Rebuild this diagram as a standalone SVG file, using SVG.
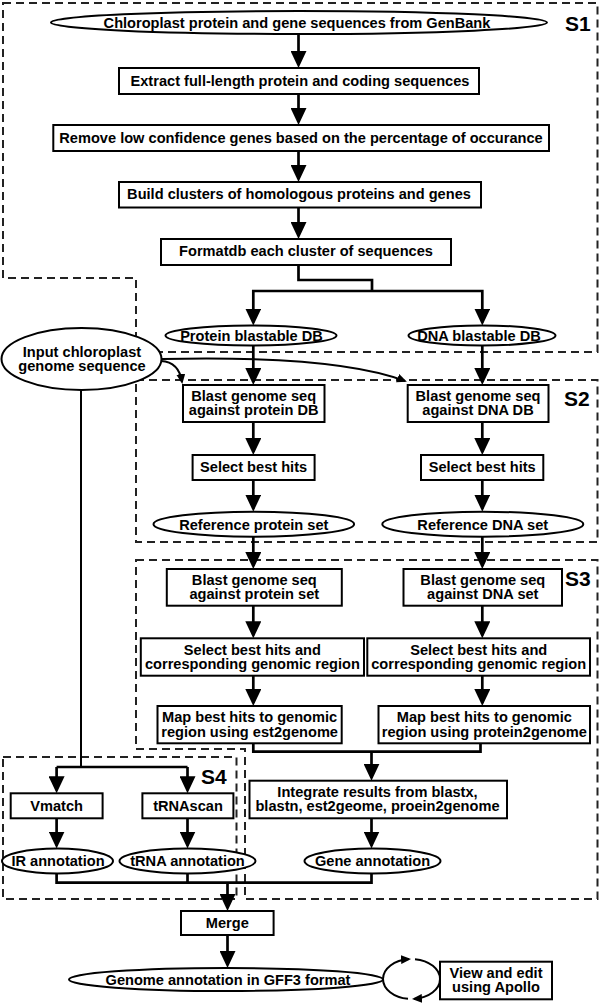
<svg xmlns="http://www.w3.org/2000/svg" width="600" height="1003" viewBox="0 0 600 1003">
<defs>
<style>
.box{fill:#fff;stroke:#000;stroke-width:2}
.conn{fill:none;stroke:#000;stroke-width:2.7}
.thin{fill:none;stroke:#000;stroke-width:2}
.dash{fill:none;stroke:#222;stroke-width:2;stroke-dasharray:8 5}
text{font-family:"Liberation Sans",Arial,Helvetica,sans-serif;font-weight:bold;font-size:14.6px;text-anchor:middle;fill:#000}
text.lbl{font-size:21px;text-anchor:start}
</style>
<marker id="ah" viewBox="0 0 17 16" refX="14" refY="8" markerWidth="17" markerHeight="16" markerUnits="userSpaceOnUse" orient="auto"><path d="M0,0 L17,8 L0,16 z" fill="#000"/></marker>
<marker id="ahs" viewBox="0 0 10 9" refX="8" refY="4.5" markerWidth="10" markerHeight="9" markerUnits="userSpaceOnUse" orient="auto"><path d="M0,0 L10,4.5 L0,9 z" fill="#000"/></marker>
</defs>
<rect width="600" height="1003" fill="#fff"/>

<g id="stages">
<path class="dash" d="M3,3 H597.5 V352 H136 V278 H3 Z"/>
<rect class="dash" x="136" y="380" width="461.5" height="162"/>
<path class="dash" d="M136,560 H597.5 V899 H245 V749 H136 Z"/>
<rect class="dash" x="3" y="757" width="233.5" height="142"/>
<text class="lbl" x="565" y="31">S1</text>
<text class="lbl" x="564" y="406">S2</text>
<text class="lbl" x="565" y="585.5">S3</text>
<text class="lbl" x="201" y="784">S4</text>
</g>

<g id="connectors">
<path class="conn" marker-end="url(#ah)" d="M298.5,34 V65"/>
<path class="conn" marker-end="url(#ah)" d="M298.5,94 V122"/>
<path class="conn" marker-end="url(#ah)" d="M298.5,151 V179"/>
<path class="conn" marker-end="url(#ah)" d="M298.5,207.5 V236"/>
<path class="conn" d="M298.5,265 V280 H372 V291"/>
<path class="conn" marker-end="url(#ah)" d="M372,291 H253.3 V322.5"/>
<path class="conn" marker-end="url(#ah)" d="M372,291 H482.3 V322.5"/>
<path class="thin" marker-end="url(#ahs)" d="M161,361 Q179,362 182,382"/>
<path class="thin" marker-end="url(#ahs)" d="M162,359 C250,357 350,360 405,381"/>
<path class="conn" marker-end="url(#ah)" d="M253.3,345.5 V382"/>
<path class="conn" marker-end="url(#ah)" d="M482.3,345.5 V382"/>
<path class="conn" marker-end="url(#ah)" d="M253.3,422 V452"/>
<path class="conn" marker-end="url(#ah)" d="M482.3,422 V452"/>
<path class="conn" marker-end="url(#ah)" d="M253.3,480 V508.7"/>
<path class="conn" marker-end="url(#ah)" d="M482.3,480 V508.7"/>
<path class="conn" marker-end="url(#ah)" d="M253.3,536.7 V566"/>
<path class="conn" marker-end="url(#ah)" d="M482.3,536.7 V566"/>
<path class="conn" marker-end="url(#ah)" d="M253.3,605.7 V635.3"/>
<path class="conn" marker-end="url(#ah)" d="M482.3,605.7 V635.3"/>
<path class="conn" marker-end="url(#ah)" d="M253.3,675.7 V703"/>
<path class="conn" marker-end="url(#ah)" d="M482.3,675.7 V703"/>
<path class="conn" d="M253.3,743.3 V751.7 H480.5 V743.3"/>
<path class="conn" marker-end="url(#ah)" d="M371.5,751.7 V777.7"/>
<path class="conn" marker-end="url(#ah)" d="M371.5,818.3 V845.5"/>
<path class="thin" d="M81,390 V767"/>
<path class="conn" d="M56.6,767 H187.5"/>
<path class="conn" marker-end="url(#ah)" d="M56.6,767 V790.3"/>
<path class="conn" marker-end="url(#ah)" d="M187.5,767 V790.3"/>
<path class="conn" marker-end="url(#ah)" d="M56.6,818.3 V845.5"/>
<path class="conn" marker-end="url(#ah)" d="M187.5,818.3 V845.5"/>
<path class="conn" d="M56.6,873.5 V882.7 H371.5 V873.5"/>
<path class="conn" d="M187.5,873.5 V882.7"/>
<path class="conn" marker-end="url(#ah)" d="M227.5,882.7 V908"/>
<path class="conn" marker-end="url(#ah)" d="M227.5,935 V965"/>
<path class="thin" marker-end="url(#ahs)" d="M383,979 A28.5,20 0 0 1 409,959.08"/>
<path class="thin" d="M415,959.15 A28.5,20 0 0 1 440,979"/>
<path class="thin" marker-end="url(#ahs)" d="M440,979 A28.5,20 0 0 1 414,998.92"/>
<path class="thin" d="M408,998.85 A28.5,20 0 0 1 383,979"/>
</g>

<g id="n_genbank"><ellipse class="box" cx="299" cy="22.5" rx="248" ry="11.5"/><text x="297" y="27.5">Chloroplast protein and gene sequences from GenBank</text></g>
<g id="n_extract"><rect class="box" x="119" y="68" width="360" height="26"/><text x="300" y="85.5">Extract full-length protein and coding sequences</text></g>
<g id="n_remove"><rect class="box" x="53.3" y="125" width="495.7" height="26"/><text x="301" y="142.5">Remove low confidence genes based on the percentage of occurance</text></g>
<g id="n_clusters"><rect class="box" x="119" y="182" width="362" height="25.5"/><text x="299" y="199">Build clusters of homologous proteins and genes</text></g>
<g id="n_formatdb"><rect class="box" x="161" y="239" width="290" height="26"/><text x="306" y="256">Formatdb each cluster of sequences</text></g>
<g id="n_protdb"><ellipse class="box" cx="251" cy="335.5" rx="85.5" ry="10"/><text x="251.5" y="340.5">Protein blastable DB</text></g>
<g id="n_dnadb"><ellipse class="box" cx="482" cy="335.5" rx="73.5" ry="10"/><text x="479" y="340.5">DNA blastable DB</text></g>
<g id="n_input"><ellipse class="box" cx="81.5" cy="359" rx="80" ry="31"/><text x="82" y="356.7">Input chloroplast</text><text x="82" y="370.9">genome sequence</text></g>

<g id="n_blastprotdb"><rect class="box" x="183" y="385" width="141.5" height="37"/><text x="253.7" y="401.2">Blast genome seq</text><text x="253.7" y="415.4">against protein DB</text></g>
<g id="n_blastdnadb"><rect class="box" x="407.7" y="385" width="140.8" height="37"/><text x="478" y="401.2">Blast genome seq</text><text x="478" y="415.4">against DNA DB</text></g>
<g id="n_selprot"><rect class="box" x="192.6" y="455" width="122" height="25"/><text x="253.6" y="471.8">Select best hits</text></g>
<g id="n_seldna"><rect class="box" x="421" y="455" width="122.3" height="25"/><text x="482.2" y="471.8">Select best hits</text></g>
<g id="n_refprot"><ellipse class="box" cx="253.8" cy="524.2" rx="100.3" ry="12.5"/><text x="253.8" y="529.5">Reference protein set</text></g>
<g id="n_refdna"><ellipse class="box" cx="482.8" cy="524.2" rx="100.5" ry="12.5"/><text x="482.8" y="529.5">Reference DNA set</text></g>

<g id="n_blastprotset"><rect class="box" x="166.8" y="569" width="175" height="36.7"/><text x="254.3" y="585">Blast genome seq</text><text x="254.3" y="599.2">against protein set</text></g>
<g id="n_blastdnaset"><rect class="box" x="403.5" y="569" width="158.5" height="36.7"/><text x="482.8" y="585">Blast genome seq</text><text x="482.8" y="599.2">against DNA set</text></g>
<g id="n_corrprot"><rect class="box" x="140.8" y="638.3" width="223.2" height="37.4"/><text x="252.4" y="654.7">Select best hits and</text><text x="252.4" y="668.9">corresponding genomic region</text></g>
<g id="n_corrdna"><rect class="box" x="367.3" y="638.3" width="222.7" height="37.4"/><text x="478.7" y="654.7">Select best hits and</text><text x="478.7" y="668.9">corresponding genomic region</text></g>
<g id="n_mapest"><rect class="box" x="157.5" y="706" width="184.2" height="37.3"/><text x="249.6" y="722.4">Map best hits to genomic</text><text x="249.6" y="736.6">region using est2genome</text></g>
<g id="n_mapprot"><rect class="box" x="378.5" y="706" width="211.5" height="37.3"/><text x="484.3" y="722.4">Map best hits to genomic</text><text x="484.3" y="736.6">region using protein2genome</text></g>
<g id="n_integrate"><rect class="box" x="249.5" y="780.7" width="257.5" height="37.6"/><text x="377.5" y="797.2">Integrate results from blastx,</text><text x="377.5" y="811.4">blastn, est2geome, proein2genome</text></g>
<g id="n_gene"><ellipse class="box" cx="372.5" cy="861" rx="68" ry="12.5"/><text x="372.5" y="866">Gene annotation</text></g>

<g id="n_vmatch"><rect class="box" x="10.7" y="793.3" width="91.9" height="25"/><text x="56.6" y="810.8">Vmatch</text></g>
<g id="n_trnascan"><rect class="box" x="142.4" y="793.3" width="91" height="25"/><text x="188" y="810.8">tRNAscan</text></g>
<g id="n_ir"><ellipse class="box" cx="57.5" cy="861" rx="55.5" ry="12.5"/><text x="58" y="866">IR annotation</text></g>
<g id="n_trna"><ellipse class="box" cx="187.5" cy="861" rx="68" ry="12.5"/><text x="187.5" y="866">tRNA annotation</text></g>

<g id="n_merge"><rect class="box" x="181" y="911" width="92.6" height="24"/><text x="227.3" y="928">Merge</text></g>
<g id="n_gff3"><ellipse class="box" cx="226" cy="979.5" rx="157" ry="11.5"/><text x="228" y="984.5">Genome annotation in GFF3 format</text></g>
<g id="n_apollo"><rect class="box" x="440" y="961.7" width="112" height="37.6"/><text x="496" y="978.2">View and edit</text><text x="496" y="992.4">using Apollo</text></g>
</svg>
